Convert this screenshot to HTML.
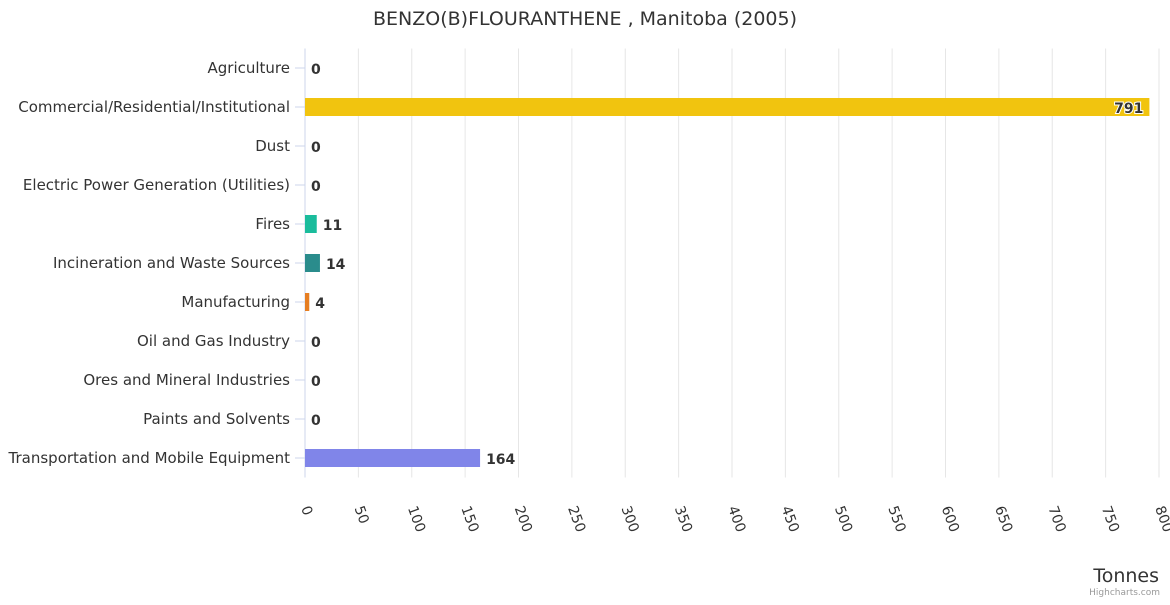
<!DOCTYPE html>
<html><head><meta charset="utf-8"><style>
body{margin:0;background:#fff;font-family:"Liberation Sans","DejaVu Sans",sans-serif;}
svg text{font-family:"DejaVu Sans","Liberation Sans",sans-serif;}
</style></head><body>
<svg id="chart" width="1170" height="600" xmlns="http://www.w3.org/2000/svg">
<rect width="1170" height="600" fill="#fff"/>
<text x="585" y="25" text-anchor="middle" font-size="19" fill="#333">BENZO(B)FLOURANTHENE , Manitoba (2005)</text>
<g id="grid"></g><g id="bars"></g><g id="labels"></g>
<text x="1159" y="582" text-anchor="end" font-size="19" fill="#333">Tonnes</text>
<text x="1160" y="595" text-anchor="end" font-size="9" fill="#999">Highcharts.com</text>
</svg>
<script>
const categories=["Agriculture","Commercial/Residential/Institutional","Dust","Electric Power Generation (Utilities)","Fires","Incineration and Waste Sources","Manufacturing","Oil and Gas Industry","Ores and Mineral Industries","Paints and Solvents","Transportation and Mobile Equipment"];
const values=[0,791,0,0,11,14,4,0,0,0,164];
const colors=["#7cb5ec","#f1c40f","#90ed7d","#f7a35c","#1abc9c","#2a8c8c","#e67e22","#8085e9","#f15c80","#e4d354","#8085e9"];
const ticks=[0,50,100,150,200,250,300,350,400,450,500,550,600,650,700,750,800];
const NS="http://www.w3.org/2000/svg";
const x0=305,x1=1159,plotTop=48.5,plotBot=477.5,xmax=800;
const xs=v=>x0+(v/xmax)*(x1-x0);
const band=(plotBot-plotTop)/categories.length;
const yc=i=>plotTop+band*(i+0.5);
function mk(t,a,p){const e=document.createElementNS(NS,t);for(const k in a)e.setAttribute(k,a[k]);p.appendChild(e);return e;}
const G=document.getElementById('grid'),B=document.getElementById('bars'),L=document.getElementById('labels');
ticks.forEach(t=>{
 const l=mk('line',{x1:xs(t),x2:xs(t),y1:plotTop,y2:plotBot,stroke:t===0?'#ccd6eb':'#e6e6e6','stroke-width':1},G);
 
 
 const tx=mk('text',{x:xs(t)-4,y:508,'font-size':14,fill:'#333',transform:`rotate(70 ${xs(t)-4} 508)`},L);
 tx.textContent=t;
 
 
});
categories.forEach((c,i)=>{
 const y=yc(i);
 mk('line',{x1:x0-10,x2:x0,y1:y,y2:y,stroke:'#ccd6eb'},G);
 const t=mk('text',{x:290,y:y+5,'text-anchor':'end','font-size':15,fill:'#333'},L);
 t.textContent=c;
 
 
 const w=xs(values[i])-x0;
 const r=mk('rect',{x:x0,y:y-9,width:Math.max(w,0),height:18,fill:colors[i]},B);
 
 
 const inside=w>200;
 const v=mk('text',{x:inside?xs(values[i])-6:xs(values[i])+6,y:y+6,'text-anchor':inside?'end':'start','font-size':14,'font-weight':'bold',fill:'#333',stroke:inside?'#fff':'none','stroke-width':inside?2:0,'paint-order':'stroke'},L);
 v.textContent=values[i];
 
 
});
</script>
</body></html>
